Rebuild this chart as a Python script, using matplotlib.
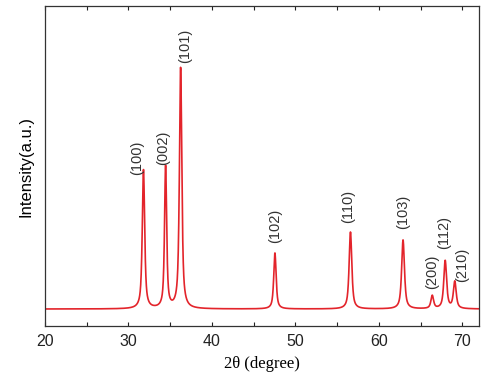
import numpy as np
import matplotlib
matplotlib.use('Agg')
import matplotlib.pyplot as plt
from matplotlib.ticker import MultipleLocator

plt.rcParams['font.family'] = ['Liberation Sans', 'DejaVu Sans']

# peak data (2theta in degrees, height above baseline, FWHM)
peak_pos = [31.8, 34.45, 36.25, 47.55, 56.6, 62.9, 66.4, 67.95, 69.1]
peak_height = [139, 142, 241, 56, 77, 69, 13, 48, 27]
peak_fwhm = [0.34, 0.3, 0.34, 0.34, 0.38, 0.4, 0.38, 0.4, 0.4]
peak_labels = ['(100)', '(002)', '(101)', '(102)', '(110)', '(103)', '(200)', '(112)', '(210)']
# label anchor: x centre and bottom y of rotated text
label_x = [31.0, 34.1, 36.8, 47.6, 56.3, 62.9, 66.4, 67.8, 70.0]
label_y = [134, 144, 246, 66, 86, 80, 20, 60, 27]
baseline = 0.0

two_theta = np.linspace(20, 72, 2600)


def pattern(x):
    y = np.full_like(x, baseline)
    for p, h, w in zip(peak_pos, peak_height, peak_fwhm):
        g = (w / 2) ** 2
        y += h * (0.75 * g / ((x - p) ** 2 + g) + 0.25 * np.exp(-4 * np.log(2) * (x - p) ** 2 / w ** 2))
    return y


intensity = pattern(two_theta)

fig = plt.figure(figsize=(5.0, 3.84), dpi=100)
ax = fig.add_axes([0.09, 0.151, 0.868, 0.833])
ax.plot(two_theta, intensity, color='#e3242b', lw=1.2)

ax.set_xlim(20, 72)
ax.set_ylim(-17, 303)
ax.xaxis.set_major_locator(MultipleLocator(10))
ax.xaxis.set_minor_locator(MultipleLocator(5))
ax.tick_params(axis='x', which='both', direction='in', top=True, length=3, width=0.8,
               labelsize=11.5, pad=6, colors='#222222')
ax.set_yticks([])
for s in ax.spines.values():
    s.set_linewidth(0.9)
    s.set_color('#333333')

for lab, lx, ly in zip(peak_labels, label_x, label_y):
    ax.text(lx, ly, lab, rotation=90, ha='center', va='bottom', fontsize=10.5, color='#333333')

ax.set_xlabel('2θ (degree)', family=['Liberation Serif', 'DejaVu Serif'], fontsize=12, labelpad=5)
ax.set_ylabel('Intensity(a.u.)', fontsize=12, labelpad=8)

fig.savefig('out.png', dpi=100)
